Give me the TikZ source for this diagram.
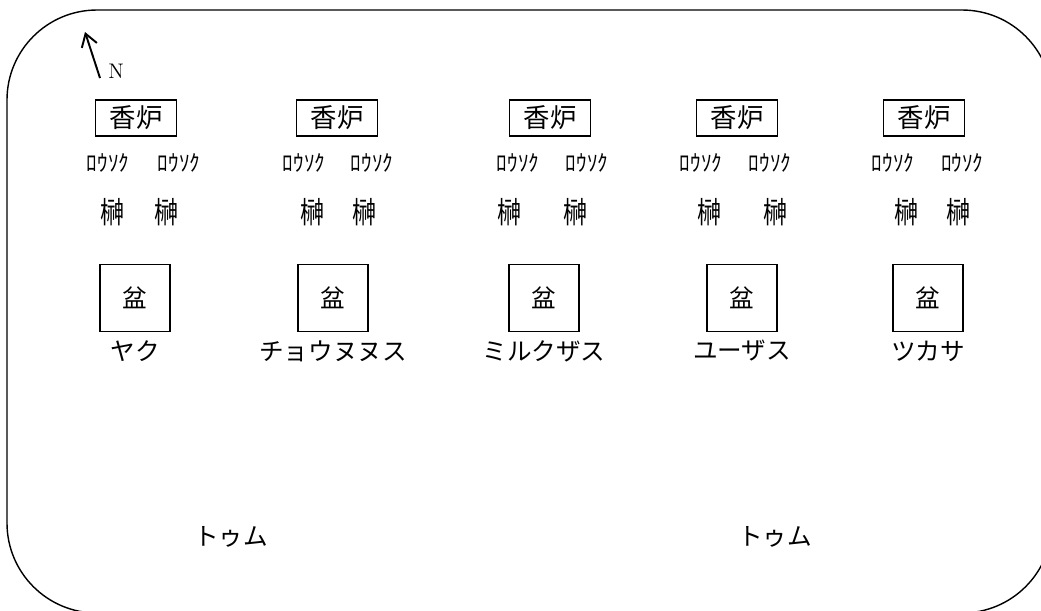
\documentclass[tikz,border=0pt]{standalone}
\usepackage{fontspec}
\newfontfamily\jp{Noto Sans CJK JP}
\usetikzlibrary{positioning, arrows.meta}

\begin{document}
\begin{tikzpicture}[x=0.02cm, y=-0.02cm,
	koro/.style={draw, line width=0.8pt, minimum width=1.62cm, minimum height=0.72cm, inner sep=0pt, font=\jp\fontsize{15}{15}\selectfont},
	bon/.style={draw, line width=0.8pt, minimum width=1.4cm, minimum height=1.34cm, inner sep=0pt, font=\jp\fontsize{14}{14}\selectfont},
	rousoku/.style={inner sep=0pt, xscale=0.92, font=\jp\fontsize{13}{13}\selectfont},
	sakaki/.style={inner sep=0pt, xscale=0.8, font=\jp\fontsize{17}{17}\selectfont},
	namae/.style={inner sep=0pt, font=\jp\fontsize{14}{14}\selectfont}]
	\useasboundingbox (0,0) rectangle (1041,610);
	\draw[line width=0.8pt, rounded corners=1.8cm] (7,10) rectangle (1052,613);
	% north
	\coordinate (nfoot) at (100,78);
	\coordinate (nhead) at (85,32);
	\draw[line width=1.1pt, -{Straight Barb[length=7pt, width=9pt]}] (nfoot)--(nhead);
	\node[inner sep=0pt, font=\fontsize{12}{12}\selectfont] (north) at (116,71) {N};
	% altars
	\foreach \k/\kx/\rl/\rr/\sl/\sr/\bx/\nm in {1/136/108/179/112/166/135/ヤク, 2/337/304/372/312/364/333/チョウヌヌス, 3/550/518/587/509/575/544/ミルクザス, 4/737/701/770/709/775/742/ユーザス, 5/924/893/962/906/958/928/ツカサ}{
		\node[koro] (koro\k) at (\kx,118) {香炉};
		\node[rousoku] (rl\k) at (\rl,163) {ﾛｳｿｸ};
		\node[rousoku] (rr\k) at (\rr,163) {ﾛｳｿｸ};
		\node[sakaki] (sl\k) at (\sl,212) {榊};
		\node[sakaki] (sr\k) at (\sr,212) {榊};
		\node[bon] (bon\k) at (\bx,298) {盆};
		\node[namae] (name\k) at (\bx,351) {\nm};
	}
	\node[namae] (tumu1) at (231,537) {トゥム};
	\node[namae] (tumu2) at (775,537) {トゥム};
\end{tikzpicture}
\end{document}
